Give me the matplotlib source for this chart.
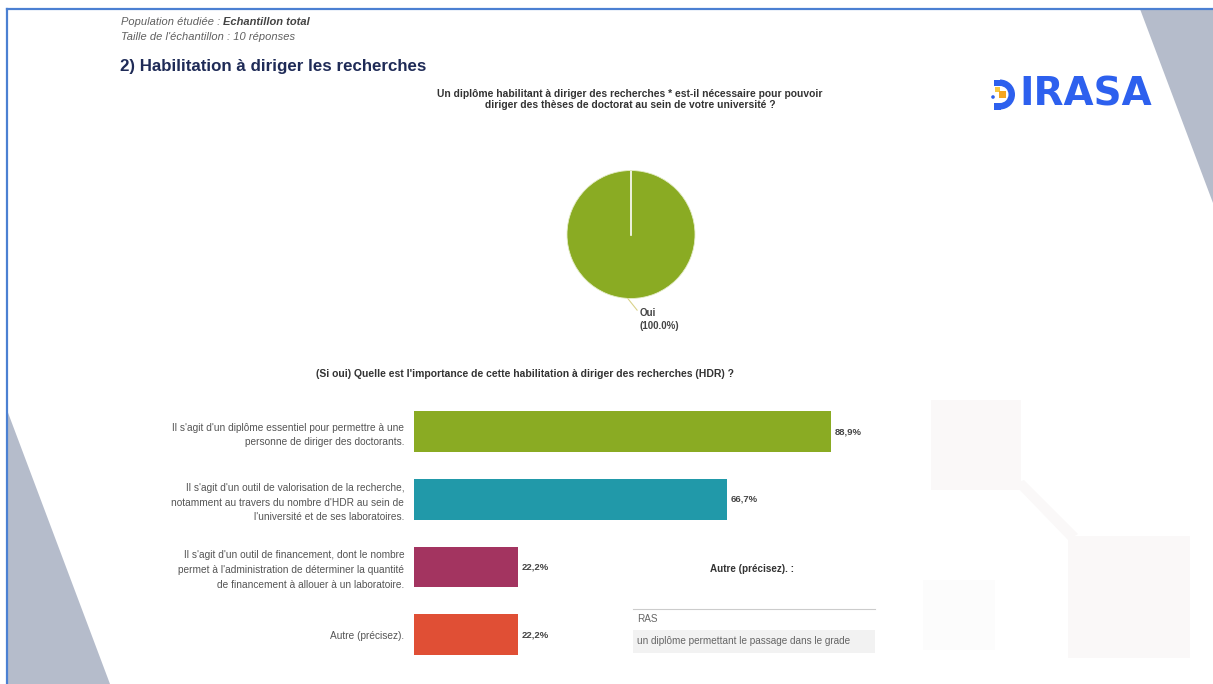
import matplotlib
matplotlib.use("Agg")
import matplotlib.pyplot as plt
from matplotlib.patches import Polygon, Rectangle, Wedge, Circle

plt.rcParams['font.family'] = ['Liberation Sans', 'DejaVu Sans']

W, H = 1213, 684

# survey data
pie_labels = ["Oui"]
pie_values = [100.0]
pie_colors = ["#8aab23"]

bar_labels = [
    "Il s'agit d'un diplôme essentiel pour permettre à une\npersonne de diriger des doctorants.",
    "Il s'agit d'un outil de valorisation de la recherche,\nnotamment au travers du nombre d'HDR au sein de\nl'université et de ses laboratoires.",
    "Il s'agit d'un outil de financement, dont le nombre\npermet à l'administration de déterminer la quantité\nde financement à allouer à un laboratoire.",
    "Autre (précisez).",
]
bar_values = [88.9, 66.7, 22.2, 22.2]
bar_colors = ["#8aab23", "#2199a9", "#a33460", "#e04f35"]

autre_answers = ["RAS", "un diplôme permettant le passage dans le grade"]


def px_box(x0, y0, x1, y1):
    return [x0 / W, 1 - y1 / H, (x1 - x0) / W, (y1 - y0) / H]


fig = plt.figure(figsize=(W / 100, H / 100), dpi=100)

# page background, frame and decorations in pixel coordinates
bg = fig.add_axes([0, 0, 1, 1])
bg.set_xlim(0, W)
bg.set_ylim(H, 0)
bg.axis("off")

bg.add_patch(Polygon([(7, 410), (7, H), (110, H)], closed=True, color="#b5bccb", lw=0))
bg.add_patch(Polygon([(1140, 9), (W, 9), (W, 203)], closed=True, color="#b5bccb", lw=0))
bg.plot([7, W], [9, 9], color="#4b80d2", lw=1.6)
bg.plot([7, 7], [9, H], color="#4b80d2", lw=1.6)

faint = "#faf8f8"
bg.add_patch(Rectangle((931, 400), 90, 90, color=faint, lw=0))
bg.add_patch(Rectangle((1068, 536), 122, 122, color=faint, lw=0))
bg.add_patch(Rectangle((923, 580), 72, 70, color="#fcfcfc", lw=0))
bg.add_patch(Polygon([(1014, 484), (1024, 480), (1078, 534), (1068, 540)], closed=True, color=faint, lw=0))

# header
t1 = bg.text(121, 22, "Population étudiée : ", fontsize=8, style="italic", color="#606060", va="center")
bg.annotate("Echantillon total", xy=(1, 0.5), xycoords=t1, fontsize=8, style="italic",
            weight="bold", color="#444444", va="center")
bg.text(121, 37, "Taille de l'échantillon : 10 réponses", fontsize=8, style="italic", color="#606060", va="center")
bg.text(120, 66, "2) Habilitation à diriger les recherches", fontsize=12.2, weight="bold",
        color="#1f2b57", va="center")

# logo
blue = "#2d60ee"
bg.add_patch(Wedge((1000, 94.5), 15, -90, 90, width=6.5, color=blue, lw=0))
bg.add_patch(Rectangle((994, 79.5), 6.5, 6.5, color=blue, lw=0))
bg.add_patch(Rectangle((994, 103), 6.5, 6.5, color=blue, lw=0))
bg.add_patch(Rectangle((995, 87), 5, 5, color="#f6c842", lw=0))
bg.add_patch(Rectangle((999, 91), 7, 7, color="#f5a623", lw=0))
bg.add_patch(Circle((993, 97), 1.8, color=blue, lw=0))
bg.text(1019, 95, "IRASA", fontsize=28, weight="bold", color=blue, va="center",
        family="DejaVu Sans")

# pie chart
pie_title = ("Un diplôme habilitant à diriger des recherches * est-il nécessaire pour pouvoir\n"
             "diriger des thèses de doctorat au sein de votre université ?")
bg.text(630, 99.5, pie_title, fontsize=7.4, weight="bold", color="#333333",
        ha="center", va="center", linespacing=1.2)

pax = fig.add_axes(px_box(567, 170.5, 695, 298.5))
pax.pie(pie_values, colors=pie_colors, startangle=90, counterclock=False, radius=1,
        wedgeprops=dict(edgecolor="#e4ecc8", linewidth=0.6))
pax.plot([0, 0], [0, 1], color="white", lw=1.2)
pax.set_xlim(-1, 1)
pax.set_ylim(-1, 1)
pax.annotate(f"{pie_labels[0]}\n({pie_values[0]:.1f}%)", xy=(-0.05, -1.0), xytext=(0.14, -1.33),
             fontsize=7, weight="bold", color="#444444", va="center", ha="left",
             linespacing=1.45, annotation_clip=False,
             arrowprops=dict(arrowstyle="-", color="#d9d28a", lw=0.8, shrinkA=0, shrinkB=0,
                             relpos=(0, 0.75)))

# bar chart
bg.text(525, 374, "(Si oui) Quelle est l'importance de cette habilitation à diriger des recherches (HDR) ?",
        fontsize=7.5, weight="bold", color="#333333", ha="center", va="center")

ax = fig.add_axes(px_box(414, 397.7, 883, 668.4))
ypos = list(range(len(bar_values)))
ax.barh(ypos, bar_values, height=0.6, color=bar_colors)
ax.set_xlim(0, 100)
ax.set_ylim(len(bar_values) - 0.5, -0.5)
ax.set_yticks(ypos)
ax.set_yticklabels(bar_labels, fontsize=7.3, color="#555555")
for t in ax.get_yticklabels():
    t.set_linespacing(1.6)
ax.tick_params(axis="y", length=0, pad=7)
ax.set_xticks([])
for s in ax.spines.values():
    s.set_visible(False)
ax.patch.set_alpha(0)
for y, v in zip(ypos, bar_values):
    ax.text(v + 0.8, y, f"{v:.1f}%".replace(".", ","), fontsize=6.8, color="#444444",
            weight="semibold", va="center")

# free-text answers for "Autre"
bg.text(752, 569, "Autre (précisez). :", fontsize=7.1, weight="bold", color="#333333",
        ha="center", va="center")
bg.plot([633, 875], [609, 609], color="#cccccc", lw=0.8)
bg.add_patch(Rectangle((633, 630), 242, 23, color="#f2f2f2", lw=0))
for i, ans in enumerate(autre_answers):
    bg.text(637, 619 + i * 22, ans, fontsize=7.2, color="#666666", va="center")

fig.savefig("out.png", dpi=100)
